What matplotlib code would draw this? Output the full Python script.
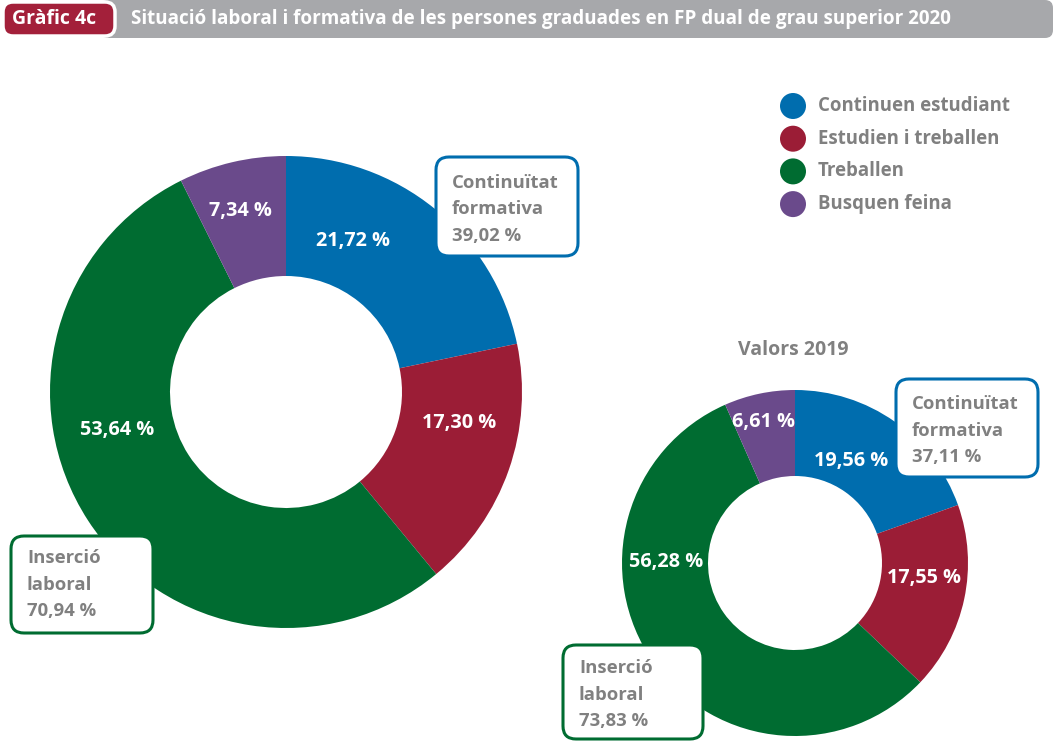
import matplotlib.pyplot as plt
import matplotlib.patches as mp

plt.rcParams['font.family'] = ['Open Sans', 'DejaVu Sans']

categories = ['Continuen estudiant', 'Estudien i treballen', 'Treballen', 'Busquen feina']
colors = ['#006DAE', '#9B1D36', '#006C31', '#6A4A8B']
values_2020 = [21.72, 17.30, 53.64, 7.34]
values_2019 = [19.56, 17.55, 56.28, 6.61]
labels_2020 = ['21,72 %', '17,30 %', '53,64 %', '7,34 %']
labels_2019 = ['19,56 %', '17,55 %', '56,28 %', '6,61 %']
training_2020, work_2020 = '39,02 %', '70,94 %'
training_2019, work_2019 = '37,11 %', '73,83 %'

W, H = 1053, 741
grey_txt = '#808080'

fig = plt.figure(figsize=(W / 100, H / 100), dpi=100)
ax = fig.add_axes([0, 0, 1, 1])


def py(y):
    # pixel row (from top) to data y
    return H - y


def donut(vals, labels, cx, cy, r, w, lab_pos):
    ax.pie(vals, colors=colors, startangle=90, counterclock=False,
           radius=r, center=(cx, py(cy)), frame=True,
           wedgeprops=dict(width=w, linewidth=0))
    for txt, (x, y) in zip(labels, lab_pos):
        ax.text(x, py(y), txt, color='white', fontsize=14.3, fontweight='bold',
                ha='center', va='center')


def callout(x0, y0, x1, y1, color, lines, tx, ty):
    box = mp.FancyBboxPatch((x0, py(y1)), x1 - x0, y1 - y0,
                            boxstyle='round,pad=0,rounding_size=13',
                            fc='white', ec=color, lw=2.2, zorder=5)
    ax.add_patch(box)
    for i, line in enumerate(lines):
        ax.text(tx, py(ty + i * 26.5), line, color=grey_txt, fontsize=13.3,
                fontweight='bold', ha='left', va='center', zorder=6)


donut(values_2020, labels_2020, 286, 392, 236, 120,
      [(353, 241), (459, 423), (117, 430), (240, 211)])
donut(values_2019, labels_2019, 795, 563, 173, 86,
      [(851, 461), (924, 578), (666, 562), (764, 422)])

callout(436, 157, 578, 256, colors[0], ['Continuïtat', 'formativa', training_2020], 452, 183)
callout(11, 536, 153, 633, colors[2], ['Inserció', 'laboral', work_2020], 27, 558)
callout(896, 379, 1038, 477, colors[0], ['Continuïtat', 'formativa', training_2019], 912, 404)
callout(563, 645, 703, 739, colors[2], ['Inserció', 'laboral', work_2019], 579, 668)

ax.text(793, py(350), 'Valors 2019', color=grey_txt, fontsize=14,
        fontweight='bold', ha='center', va='center')

# legend
for i, (cat, col) in enumerate(zip(categories, colors)):
    y = 106 + i * 32.7
    ax.add_patch(mp.Circle((793, py(y)), 13, fc=col, ec='none'))
    ax.text(818, py(y), cat, color=grey_txt, fontsize=13.4, fontweight='bold',
            ha='left', va='center')

# header
ax.add_patch(mp.FancyBboxPatch((100, py(38)), W - 100, 38,
                               boxstyle='round,pad=0,rounding_size=8',
                               fc='#A7A8AB', ec='none', zorder=2))
ax.add_patch(mp.FancyBboxPatch((3, py(36)), 112, 34,
                               boxstyle='round,pad=0,rounding_size=10',
                               fc='#A3203A', ec='white', lw=2.5, zorder=3))
ax.text(12, py(19), 'Gràfic 4c', color='white', fontsize=14, fontweight='bold',
        ha='left', va='center', zorder=4)
ax.text(131, py(19), 'Situació laboral i formativa de les persones graduades en FP dual de grau superior 2020',
        color='white', fontsize=13.6, fontweight='bold', ha='left', va='center', zorder=4)

ax.set_xlim(0, W)
ax.set_ylim(0, H)
ax.set_aspect('equal')
ax.axis('off')

plt.savefig('out.png', dpi=100)
